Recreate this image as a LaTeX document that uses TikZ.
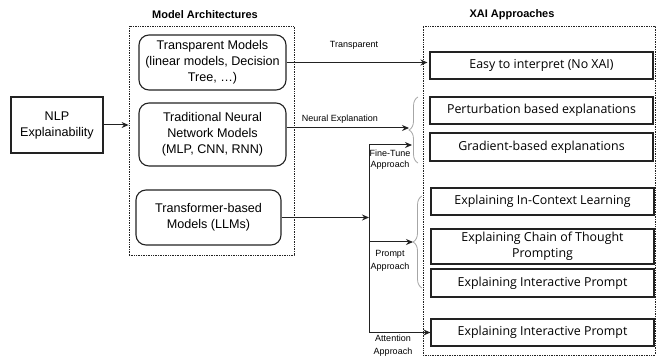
\documentclass[tikz,border=0pt]{standalone}
\usepackage{fontspec}
\setmainfont{Liberation Sans}
\newfontfamily\rfont{Open Sans}
\usetikzlibrary{arrows.meta,decorations.pathreplacing}
\definecolor{ln}{HTML}{222222}
\tikzset{
  lbox/.style={draw=ln, line width=1.1pt, inner sep=0pt, align=center,
    font=\fontsize{12.6}{16}\selectfont},
  rbox/.style={lbox, rounded corners=10pt},
  xbox/.style={draw=ln, line width=1.1pt, inner sep=0pt, align=center,
    minimum width=223pt, font=\rfont\fontsize{12.4}{16}\selectfont},
  dotbox/.style={draw=ln, line width=0.8pt, dash pattern=on 0.8pt off 0.9pt, inner sep=0pt},
  ttl/.style={font=\bfseries\fontsize{11}{13}\selectfont},
  lab/.style={font=\fontsize{9}{11}\selectfont, align=center, inner sep=0pt},
  arr/.style={draw=ln, line width=1pt, -{Stealth[length=7pt,width=6pt]}},
  con/.style={draw=ln, line width=1pt},
  brc/.style={draw=gray!70, line width=0.8pt, decorate,
    decoration={brace, amplitude=9pt}},
}
\begin{document}
\begin{tikzpicture}[x=1pt,y=-1pt]
\useasboundingbox (0,0) rectangle (659,358);
% titles
\node[ttl] (t1) at (205,15) {Model Architectures};
\node[ttl] (t2) at (512,15) {XAI Approaches};
% dotted containers
\node[dotbox, minimum width=165pt, minimum height=229pt] (ma) at (211.5,140.5) {};
\node[dotbox, minimum width=232pt, minimum height=329pt] (xa) at (539,190.5) {};
% left
\node[lbox, minimum width=92pt, minimum height=56pt] (nlp) at (57,125) {NLP\\Explainability};
\node[rbox, minimum width=147pt, minimum height=55pt] (tm) at (212.5,62.5) {Transparent Models\\(linear models, Decision\\Tree, \dots)};
\node[rbox, minimum width=147pt, minimum height=63pt] (nn) at (212.5,134.5) {Traditional Neural\\Network Models\\(MLP, CNN, RNN)};
\node[rbox, minimum width=145pt, minimum height=55pt] (tf) at (208.5,217.5) {Transformer-based\\Models (LLMs)};
% right boxes
\node[xbox, minimum height=27pt] (easy) at (541.5,65.5) {Easy to interpret (No XAI)};
\node[xbox, minimum height=27pt] (pert) at (541.5,110.5) {Perturbation based explanations};
\node[xbox, minimum height=28pt] (grad) at (541.5,147) {Gradient-based explanations};
\node[xbox, minimum height=27pt] (icl) at (542.5,201.5) {Explaining In-Context Learning};
\node[xbox, minimum height=35pt] (cot) at (542.5,246.5) {Explaining Chain of Thought\\Prompting};
\node[xbox, minimum height=28pt] (ip) at (542.5,283) {Explaining Interactive Prompt};
\node[xbox, minimum height=27pt] (ip2) at (542.5,332.5) {Explaining Interactive Prompt};
% coordinates
\coordinate (b1) at (409,128);
\coordinate (ft) at (369,145);
\coordinate (ftt) at (412,145);
\coordinate (pr) at (369,242);
\coordinate (prt) at (413,242);
\coordinate (att) at (369,332.5);
\coordinate (br1a) at (418,163);
\coordinate (br1b) at (418,97);
\coordinate (br2a) at (422,288);
\coordinate (br2b) at (422,196);
% connectors
\draw[arr] (nlp.east) -- (ma.west |- nlp.east);
\draw[arr, shorten >=2pt] (tm.east) -- (tm.east -| easy.west);
\draw[arr] (nn.east |- b1) -- (b1);
\draw[con] (ft) -- (att);
\draw[arr] (ft) -- (ftt);
\draw[arr] (tf.east) -- (tf.east -| ft);
\draw[arr] (pr) -- (prt);
\draw[arr] (att) -- (ip2.west);
\draw[brc] (br1a) -- (br1b);
\draw[brc] (br2a) -- (br2b);
% labels
\node[lab] (l1) at (354,45) {Transparent};
\node[lab] (l2) at (340,119) {Neural Explanation};
\node[lab, font=\fontsize{9}{11}\selectfont] (l3) at (390,160) {Fine-Tune\\Approach};
\node[lab, font=\fontsize{9}{12.5}\selectfont] (l4) at (390,261) {Prompt\\Approach};
\node[lab, font=\fontsize{9}{13}\selectfont] (l5) at (393,345.5) {Attention\\Approach};
\end{tikzpicture}
\end{document}
